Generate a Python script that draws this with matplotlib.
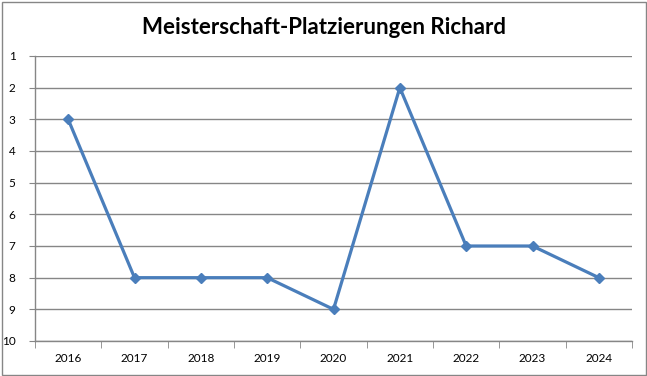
import matplotlib.pyplot as plt
from matplotlib.patches import Rectangle
from matplotlib.ticker import FixedLocator

# Daten: Platzierungen pro Jahr
years = ["2016", "2017", "2018", "2019", "2020", "2021", "2022", "2023", "2024"]
places = [3, 8, 8, 8, 9, 2, 7, 7, 8]
y_ticks = list(range(1, 11))

grid_color = "#868686"
line_color = "#4A7EBB"

fig = plt.figure(figsize=(6.47, 3.76), dpi=100)
ax = fig.add_axes([35 / 647, 1 - 341 / 376, 597 / 647, 285 / 376])

x = list(range(len(years)))
ax.plot(x, places, color=line_color, linewidth=2.3, marker="D", markersize=5,
        markerfacecolor=line_color, markeredgecolor=line_color, zorder=3)

ax.set_xlim(-0.5, len(years) - 0.5)
ax.set_ylim(10, 1)

ax.set_yticks(y_ticks)
ax.set_yticklabels([str(v) for v in y_ticks], fontfamily="Lato", fontsize=8.5)
ax.yaxis.grid(True, color=grid_color, linewidth=1)
ax.tick_params(axis="y", length=4, color=grid_color, pad=10)

ax.set_xticks(x)
ax.set_xticklabels(years, fontfamily="Lato", fontsize=8.5)
ax.xaxis.set_minor_locator(FixedLocator([i - 0.5 for i in range(len(years) + 1)]))
ax.tick_params(axis="x", which="major", length=0, pad=9)
ax.tick_params(axis="x", which="minor", length=5, color=grid_color)

for side in ["top", "right"]:
    ax.spines[side].set_visible(False)
for side in ["left", "bottom"]:
    ax.spines[side].set_color(grid_color)
    ax.spines[side].set_linewidth(1)

fig.text(0.5, 1 - 27 / 376, "Meisterschaft-Platzierungen Richard", ha="center", va="center",
         fontfamily="Lato", fontweight="bold", fontsize=16)

fig.patches.append(Rectangle((1.5 / 647, 1.5 / 376), 644 / 647, 373 / 376, transform=fig.transFigure,
                             fill=False, edgecolor=grid_color, linewidth=1))

fig.savefig("out.png", dpi=100)
